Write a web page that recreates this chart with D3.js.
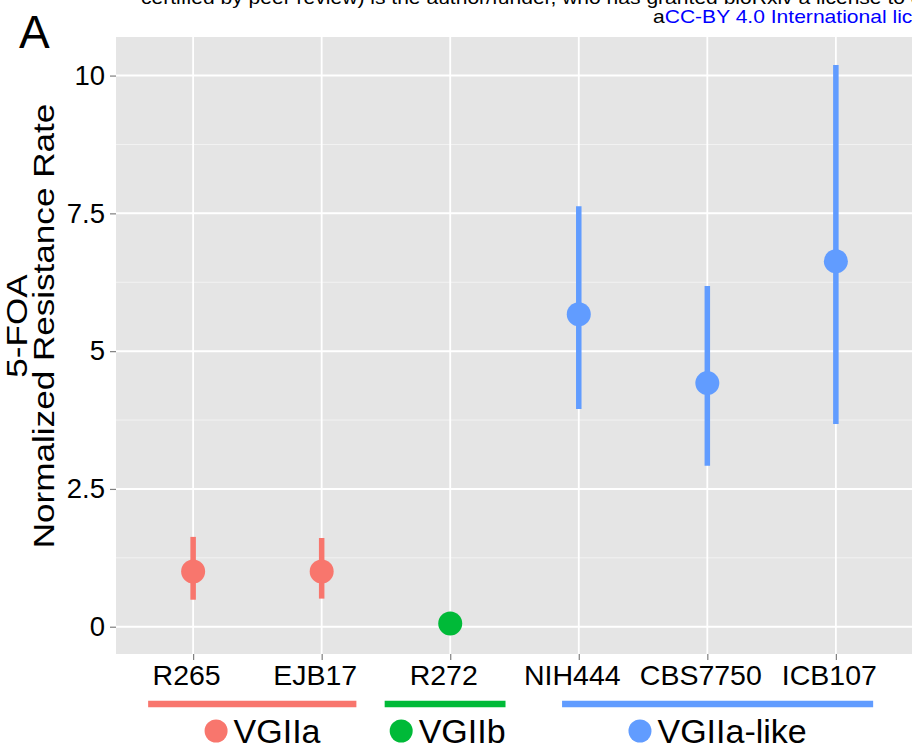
<!DOCTYPE html>
<html>
<head>
<meta charset="utf-8">
<script src="https://cdn.jsdelivr.net/npm/d3@7"></script>
<style>
  html, body { margin: 0; padding: 0; background: #fff; }
  svg { display: block; font-family: "Liberation Sans", Arial, sans-serif; }
</style>
</head>
<body>
<div id="chart"></div>
<script>
// strains, their lineage and the measured 5-FOA resistance rate (mean, lower, upper)
var strains   = ["R265", "EJB17", "R272", "NIH444", "CBS7750", "ICB107"];
var lineage   = ["VGIIa", "VGIIa", "VGIIb", "VGIIa-like", "VGIIa-like", "VGIIa-like"];
var meanRate  = [1.00, 1.00, 0.06, 5.67, 4.42, 6.63];
var lowerRate = [0.49, 0.51, 0.02, 3.95, 2.92, 3.68];
var upperRate = [1.63, 1.61, 0.10, 7.63, 6.18, 10.19];

// lineage groups, span of the bar under the axis and where the label sits
// (in strain positions, 1 = first strain)
var groups       = ["VGIIa", "VGIIb", "VGIIa-like"];
var groupColors  = ["#F8766D", "#00BA38", "#619CFF"];
var groupStart   = [0.65, 2.49, 3.87];
var groupEnd     = [2.27, 3.43, 6.29];
var groupLabelAt = [1.54, 2.98, 5.08];

var yTicks      = [0, 2.5, 5, 7.5, 10];
var yTickLabels = ["0", "2.5", "5", "7.5", "10"];
var yMinor      = [1.25, 3.75, 6.25, 8.75];

var W = 912, H = 748;
var panel = {left: 116, right: 913, top: 37, bottom: 654};
var stretch = 1.17;   // the figure's text is a little wider than the font

var svg = d3.select("#chart").append("svg")
	.attr("width", W)
	.attr("height", H);

// x : position scale (1..6 for strains), ggplot style expansion of 0.6
var xPos = d3.scaleLinear().domain([0.4, 6.6]).range([panel.left, panel.right]);
var x = function(name){ return xPos(strains.indexOf(name) + 1); };
var y = d3.scaleLinear().domain([-0.495, 10.70]).range([panel.bottom, panel.top]);

var color = d3.scaleOrdinal().domain(groups).range(groupColors);

// bioRxiv watermark (clipped at top / right)
svg.append("text")
	.attr("transform", "translate(141,4) scale(" + stretch + ",1)")
	.style("font-size", "18px")
	.attr("fill", "#000")
	.text("certified by peer review) is the author/funder, who has granted bioRxiv a license to display the preprint in perpetuity. It is made available under");

var wm = svg.append("text")
	.attr("transform", "translate(653,23) scale(" + stretch + ",1)")
	.style("font-size", "18px");
wm.append("tspan").attr("fill", "#000").text("a");
wm.append("tspan").attr("fill", "#0000FF").text("CC-BY 4.0 International license.");

// panel letter
svg.append("text")
	.attr("x", 19).attr("y", 48)
	.style("font-size", "46px")
	.attr("fill", "#000")
	.text("A");

// panel background
svg.append("rect")
	.attr("x", panel.left).attr("y", panel.top)
	.attr("width", panel.right - panel.left)
	.attr("height", panel.bottom - panel.top)
	.attr("fill", "#E5E5E5");

var grid = svg.append("g").attr("class", "grid");

grid.selectAll(".minor")
	.data(yMinor)
	.enter().append("line")
	.attr("class", "minor")
	.attr("x1", panel.left).attr("x2", panel.right)
	.attr("y1", function(d){ return y(d); })
	.attr("y2", function(d){ return y(d); })
	.attr("stroke", "#F2F2F2")
	.attr("stroke-width", 1);

grid.selectAll(".major")
	.data(yTicks)
	.enter().append("line")
	.attr("class", "major")
	.attr("x1", panel.left).attr("x2", panel.right)
	.attr("y1", function(d){ return y(d); })
	.attr("y2", function(d){ return y(d); })
	.attr("stroke", "#fff")
	.attr("stroke-width", 2);

grid.selectAll(".vmajor")
	.data(strains)
	.enter().append("line")
	.attr("class", "vmajor")
	.attr("x1", function(d){ return x(d); })
	.attr("x2", function(d){ return x(d); })
	.attr("y1", panel.top).attr("y2", panel.bottom)
	.attr("stroke", "#fff")
	.attr("stroke-width", 1.8);

// y axis
var yAxis = d3.axisLeft(y)
	.tickValues(yTicks)
	.tickFormat(function(d, i){ return yTickLabels[i]; })
	.tickSize(6)
	.tickPadding(5);

var gy = svg.append("g")
	.attr("transform", "translate(" + panel.left + ",0)")
	.call(yAxis);
gy.select(".domain").remove();
gy.selectAll(".tick line").attr("stroke", "#7F7F7F").attr("stroke-width", 1.2);
gy.selectAll(".tick text")
	.style("font-size", "27.5px")
	.style("font-family", "'Liberation Sans', Arial, sans-serif")
	.attr("fill", "#000");

// x axis
var xAxis = d3.axisBottom(d3.scalePoint().domain(strains).range([x(strains[0]), x(strains[strains.length - 1])]))
	.tickSize(6)
	.tickPadding(5);

var gx = svg.append("g")
	.attr("transform", "translate(0," + panel.bottom + ")")
	.call(xAxis);
gx.select(".domain").remove();
gx.selectAll(".tick line").attr("stroke", "#7F7F7F").attr("stroke-width", 1.2);
gx.selectAll(".tick text")
	.attr("dx", -7)
	.style("font-size", "28.5px")
	.style("font-family", "'Liberation Sans', Arial, sans-serif")
	.attr("fill", "#000");

// y axis title (two lines, rotated)
var titleLines = ["5-FOA", "Normalized Resistance Rate"];
var titleBase  = [27, 54];
svg.selectAll(".ytitle")
	.data(titleLines)
	.enter().append("text")
	.attr("class", "ytitle")
	.attr("transform", function(d, i){
		return "translate(" + titleBase[i] + ",326) rotate(-90) scale(" + stretch + ",1)";
	})
	.attr("text-anchor", "middle")
	.style("font-size", "30px")
	.attr("fill", "#000")
	.text(function(d){ return d; });

// error bars + points
var rows = strains.map(function(s, i){
	return {strain: s, group: lineage[i], mean: meanRate[i], lo: lowerRate[i], hi: upperRate[i]};
});

var marks = svg.append("g").attr("class", "marks");

marks.selectAll(".err")
	.data(rows)
	.enter().append("line")
	.attr("class", "err")
	.attr("x1", function(d){ return x(d.strain); })
	.attr("x2", function(d){ return x(d.strain); })
	.attr("y1", function(d){ return y(d.lo); })
	.attr("y2", function(d){ return y(d.hi); })
	.attr("stroke", function(d){ return color(d.group); })
	.attr("stroke-width", 5.5);

marks.selectAll(".pt")
	.data(rows)
	.enter().append("circle")
	.attr("class", "pt")
	.attr("cx", function(d){ return x(d.strain); })
	.attr("cy", function(d){ return y(d.mean); })
	.attr("r", 12)
	.attr("fill", function(d){ return color(d.group); });

// lineage bars + labels under the axis
var legend = svg.append("g").attr("class", "lineage");

legend.selectAll(".gbar")
	.data(groups)
	.enter().append("line")
	.attr("class", "gbar")
	.attr("x1", function(d, i){ return xPos(groupStart[i]); })
	.attr("x2", function(d, i){ return xPos(groupEnd[i]); })
	.attr("y1", 704).attr("y2", 704)
	.attr("stroke", function(d){ return color(d); })
	.attr("stroke-width", 6.5);

var lab = legend.selectAll(".glab")
	.data(groups)
	.enter().append("g")
	.attr("class", "glab");

lab.append("text")
	.attr("y", 743)
	.style("font-size", "34px")
	.attr("fill", "#000")
	.text(function(d){ return d; });

lab.each(function(d, i){
	var g = d3.select(this);
	var tw = g.select("text").node().getComputedTextLength();
	var r = 11.5, gap = 6;
	var total = 2 * r + gap + tw;
	var left = xPos(groupLabelAt[i]) - total / 2;
	g.append("circle")
		.attr("cx", left + r)
		.attr("cy", 731)
		.attr("r", r)
		.attr("fill", color(d));
	g.select("text").attr("x", left + 2 * r + gap);
});
</script>
</body>
</html>
